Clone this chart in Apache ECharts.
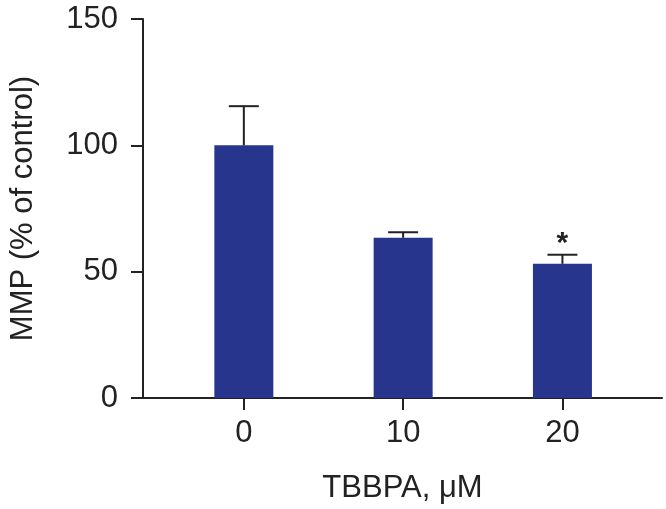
<!DOCTYPE html>
<html>
<head>
<meta charset="utf-8">
<script src="https://cdn.jsdelivr.net/npm/echarts@6/dist/echarts.min.js"></script>
<style>
  html, body { margin: 0; padding: 0; background: #fff; }
  #main { width: 666px; height: 509px; }
</style>
</head>
<body>
<div id="main"></div>
<script>
// 数据
var doses = ['0', '10', '20'];          // TBBPA, μM
var mmp = [100, 63.4, 53.1];            // MMP (% of control)
var sem = [15.5, 2.2, 3.6];             // 误差
var marks = ['', '', '*'];              // 显著性
var yTicks = [0, 50, 100, 150];

var barData = mmp.map(function (v, i) { return [i, v]; });
var errData = mmp.map(function (v, i) { return [i, v, sem[i]]; });

var ink = '#222';
var font = 'Liberation Sans, Arial, sans-serif';

var chart = echarts.init(document.getElementById('main'));
chart.setOption({
  animation: false,
  backgroundColor: '#fff',
  grid: { left: 140, right: 4, top: 19, bottom: 111 },
  xAxis: {
    type: 'value',
    min: -0.633,
    max: 2.625,
    name: 'TBBPA, μM',
    nameLocation: 'middle',
    nameGap: 75,
    nameTextStyle: { fontFamily: font, fontSize: 31, color: ink },
    splitLine: { show: false },
    axisLine: { show: true, onZero: false, lineStyle: { color: ink, width: 2 } },
    axisTick: { show: true, length: 12, customValues: [0, 1, 2], lineStyle: { color: ink, width: 2 } },
    axisLabel: {
      customValues: [0, 1, 2],
      margin: 20,
      fontFamily: font, fontSize: 31, color: ink,
      formatter: function (v) { return doses[Math.round(v)]; }
    }
  },
  yAxis: {
    type: 'value',
    min: yTicks[0],
    max: yTicks[yTicks.length - 1],
    interval: 50,
    name: 'MMP (% of control)',
    nameLocation: 'middle',
    nameGap: 104,
    nameTextStyle: { fontFamily: font, fontSize: 31, color: ink },
    splitLine: { show: false },
    axisLine: { show: true, onZero: false, lineStyle: { color: ink, width: 2 } },
    axisTick: { show: true, length: 12, lineStyle: { color: ink, width: 2 } },
    axisLabel: { margin: 25, fontFamily: font, fontSize: 31, color: ink }
  },
  series: [
    {
      type: 'bar',
      data: barData,
      barWidth: 59,
      itemStyle: { color: '#27358c' },
      z: 2
    },
    {
      type: 'custom',
      data: errData,
      z: 3,
      renderItem: function (params, api) {
        var x = api.value(0), v = api.value(1), e = api.value(2);
        var p0 = api.coord([x, v]);
        var p1 = api.coord([x, v + e]);
        var half = 15;
        var st = { stroke: ink, lineWidth: 2 };
        var children = [
          { type: 'line', shape: { x1: p0[0], y1: p0[1], x2: p1[0], y2: p1[1] }, style: st },
          { type: 'line', shape: { x1: p1[0] - half, y1: p1[1], x2: p1[0] + half, y2: p1[1] }, style: st }
        ];
        var m = marks[params.dataIndex];
        if (m) {
          children.push({
            type: 'text',
            style: {
              text: m, x: p1[0], y: p1[1] + 4,
              align: 'center', verticalAlign: 'bottom',
              fontFamily: font, fontSize: 30, fontWeight: 'bold', fill: ink
            }
          });
        }
        return { type: 'group', children: children };
      }
    }
  ]
});
</script>
</body>
</html>
